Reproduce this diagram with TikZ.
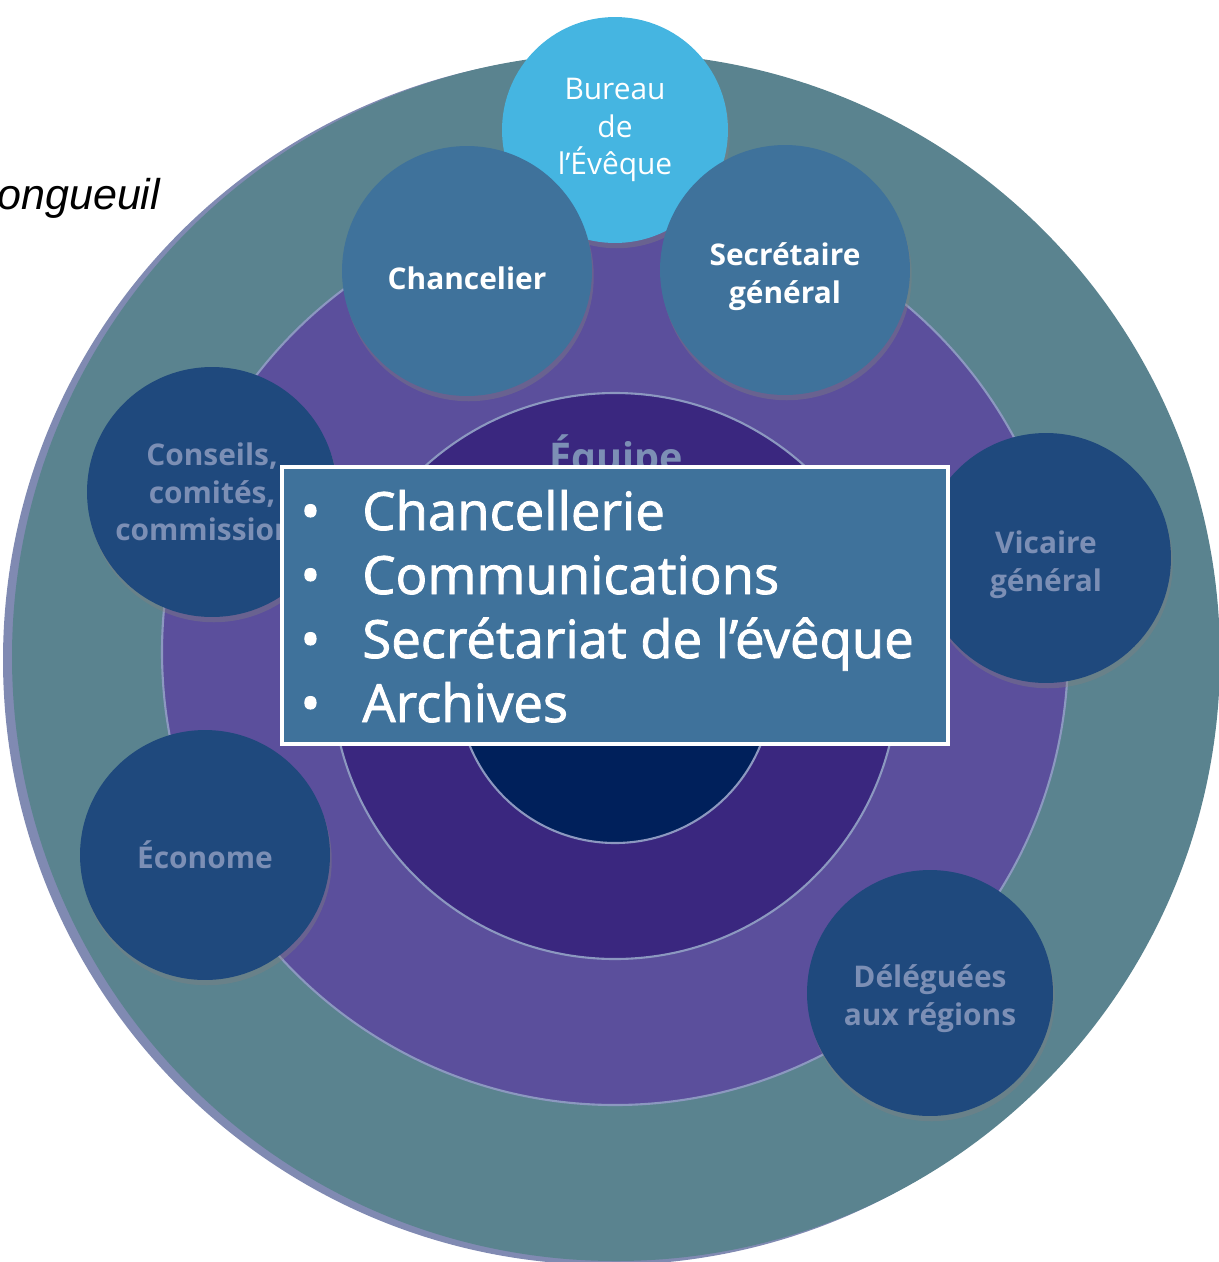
\documentclass[tikz,border=0pt]{standalone}
\usepackage{fontspec}
\setmainfont{Open Sans}
\newfontfamily\boxfont{Open Sans}[FakeBold=1.6]
\newfontfamily\cityfont{Liberation Sans}
\usetikzlibrary{shadows}
\definecolor{ringedge}{RGB}{128,138,178}
\definecolor{ringline}{RGB}{140,152,192}
\definecolor{ringteal}{RGB}{90,131,143}
\definecolor{midpurple}{RGB}{91,79,156}
\definecolor{darkpurple}{RGB}{58,39,127}
\definecolor{innernavy}{RGB}{0,32,91}
\definecolor{bureaublue}{RGB}{69,181,225}
\definecolor{stateblue}{RGB}{63,114,155}
\definecolor{darkblue}{RGB}{31,73,125}
\definecolor{greytext}{RGB}{124,143,181}
\newcommand{\lowr}[1]{\rule{0pt}{#1}}

\begin{document}
\begin{tikzpicture}[x=0.02cm,y=-0.02cm]
  \tikzstyle{ring}=[draw=ringline, line width=1.2pt]
  \tikzstyle{unit}=[circle, inner sep=0pt, minimum size=5cm, align=center,
    font=\bfseries\fontsize{17}{21.5}\selectfont,
    drop shadow={shadow xshift=1pt, shadow yshift=-3pt, opacity=0.4}]
  \tikzstyle{office}=[unit, fill=stateblue, text=white]
  \tikzstyle{service}=[unit, fill=darkblue, text=greytext]
  \tikzstyle{listbox}=[draw=white, line width=2.3pt, fill=stateblue,
    minimum width=13.32cm, minimum height=5.54cm]
  \tikzstyle{listitem}=[text=white, inner sep=0pt, anchor=base west,
    font=\boxfont\fontsize{30}{36}\selectfont]
  \useasboundingbox (0,0) rectangle (1219,1262);
  \node[font=\cityfont\itshape\fontsize{24.5}{28}\selectfont, anchor=base west,
        inner sep=0pt] (city) at (-3,209) {ongueuil};
  % rings
  \fill[ringedge] (608,660) circle (605);
  \fill[ringteal] (616,657) circle (604);
  \filldraw[ring, fill=midpurple] (615,652) circle (453);
  \filldraw[ring, fill=darkpurple] (615,676) circle (283);
  \filldraw[ring, fill=innernavy] (615,686) circle (157);
  \node[text=greytext, font=\bfseries\fontsize{22.5}{25}\selectfont, anchor=base,
        inner sep=0pt] (team) at (616,471) {Équipe};
  % circles
  \node[unit, fill=bureaublue, text=white, minimum size=4.52cm,
        font=\fontsize{17}{21.5}\selectfont] (bureau) at (615,130) {Bureau\\de\\l’Évêque};
  \node[office] (chancelier) at (467,271) {\lowr{21pt}Chancelier};
  \node[office] (secretaire) at (785,270) {\lowr{21pt}Secrétaire\\général};
  \node[service] (conseils) at (212,492) {Conseils,\\comités,\\commissions};
  \node[service] (vicaire) at (1046,558) {\lowr{21pt}Vicaire\\général};
  \node[service] (econome) at (205,855) {Économe};
  \node[service, minimum size=4.92cm] (delegues) at (930,993) {\lowr{19pt}Déléguées\\aux régions};
  % list
  \node[listbox] (list) at (615,605.5) {};
  \foreach \entry [count=\i] in {Chancellerie, Communications,
                                 Secrétariat de l’évêque, Archives}
    \node[listitem] (item\i) at (362,466+64*\i) {\llap{\textbullet\hspace{0.84cm}}\entry};
\end{tikzpicture}
\end{document}
